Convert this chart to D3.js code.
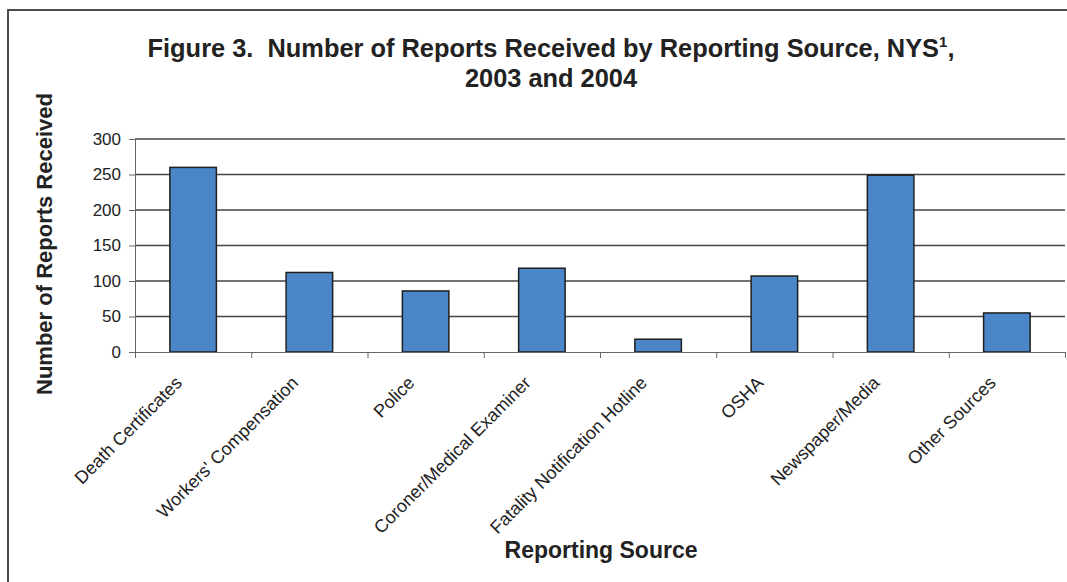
<!DOCTYPE html>
<html>
<head>
<meta charset="utf-8">
<script src="https://cdn.jsdelivr.net/npm/d3@7"></script>
<style>
  body { margin: 0; background: #fff; }
  text { font-family: "Liberation Sans", Arial, sans-serif; fill: #222; }
</style>
</head>
<body>
<script>
// chart data
var sources = ["Death Certificates", "Workers' Compensation", "Police", "Coroner/Medical Examiner",
               "Fatality Notification Hotline", "OSHA", "Newspaper/Media", "Other Sources"];
var reports = [260, 112, 86, 118, 18, 107, 249, 55];
var yTicks = [0, 50, 100, 150, 200, 250, 300];

var W = 1067, H = 582;
var plot = {left: 135, right: 1065, top: 139, bottom: 352};

var svg = d3.select("body").append("svg")
    .attr("width", W)
    .attr("height", H);

// outer frame (runs off the page on the right and bottom)
svg.append("rect")
    .attr("x", 8).attr("y", 10)
    .attr("width", W + 20).attr("height", H + 20)
    .attr("fill", "none")
    .attr("stroke", "#3a3a3a")
    .attr("stroke-width", 1.8);

var x = d3.scaleBand().domain(sources).range([plot.left, plot.right])
    .paddingInner(0.6).paddingOuter(0.3);
var xEdge = d3.scaleLinear().domain([0, sources.length]).range([plot.left, plot.right]);
var y = d3.scaleLinear().domain([0, 300]).range([plot.bottom, plot.top]);

// gridlines
svg.append("g").selectAll("line")
    .data(yTicks.slice(1))
    .enter().append("line")
        .attr("x1", plot.left).attr("x2", plot.right)
        .attr("y1", function(d) { return y(d); })
        .attr("y2", function(d) { return y(d); })
        .attr("stroke", "#454545")
        .attr("stroke-width", 1.3);

// bars
svg.append("g").selectAll("rect")
    .data(reports)
    .enter().append("rect")
        .attr("x", function(d, i) { return x(sources[i]); })
        .attr("y", function(d) { return y(d); })
        .attr("width", x.bandwidth())
        .attr("height", function(d) { return plot.bottom - y(d); })
        .attr("fill", "#4a86c8")
        .attr("stroke", "#1e1e1e")
        .attr("stroke-width", 1.5);

// y axis
var yAxis = svg.append("g")
    .attr("transform", "translate(" + plot.left + ",0)")
    .call(d3.axisLeft(y).tickValues(yTicks).tickSize(6).tickPadding(8));
yAxis.selectAll("text")
    .attr("font-size", "17px")
    .attr("font-family", "Liberation Sans, Arial, sans-serif")
    .attr("fill", "#222");
yAxis.selectAll("line, path").attr("stroke", "#666");

// x axis: tick marks on category edges
var xAxis = svg.append("g")
    .attr("transform", "translate(0," + plot.bottom + ")")
    .call(d3.axisBottom(xEdge).tickValues(d3.range(sources.length + 1))
        .tickSize(6).tickFormat(""));
xAxis.selectAll("line, path").attr("stroke", "#666");

// rotated category labels
svg.append("g").selectAll("text")
    .data(sources)
    .enter().append("text")
        .attr("transform", function(d) {
            return "translate(" + (x(d) + x.bandwidth() / 2 - 10) + "," + (plot.bottom + 32) + ") rotate(-45)";
        })
        .attr("text-anchor", "end")
        .attr("font-size", "18px")
        .text(function(d) { return d; });

// titles
var title = svg.append("text")
    .attr("x", 551).attr("y", 57)
    .attr("text-anchor", "middle")
    .attr("font-size", "25.4px")
    .attr("font-weight", "bold");
title.append("tspan").text("Figure 3.\u00a0\u00a0Number of Reports Received by Reporting Source, NYS");
title.append("tspan").attr("font-size", "15px").attr("dy", -10).text("1");
title.append("tspan").attr("dy", 10).text(",");

svg.append("text")
    .attr("x", 551).attr("y", 87)
    .attr("text-anchor", "middle")
    .attr("font-size", "25.4px")
    .attr("font-weight", "bold")
    .text("2003 and 2004");

svg.append("text")
    .attr("transform", "translate(52,244) rotate(-90)")
    .attr("text-anchor", "middle")
    .attr("font-size", "22px")
    .attr("font-weight", "bold")
    .text("Number of Reports Received");

svg.append("text")
    .attr("x", 601).attr("y", 558)
    .attr("text-anchor", "middle")
    .attr("font-size", "23px")
    .attr("font-weight", "bold")
    .text("Reporting Source");
</script>
</body>
</html>
